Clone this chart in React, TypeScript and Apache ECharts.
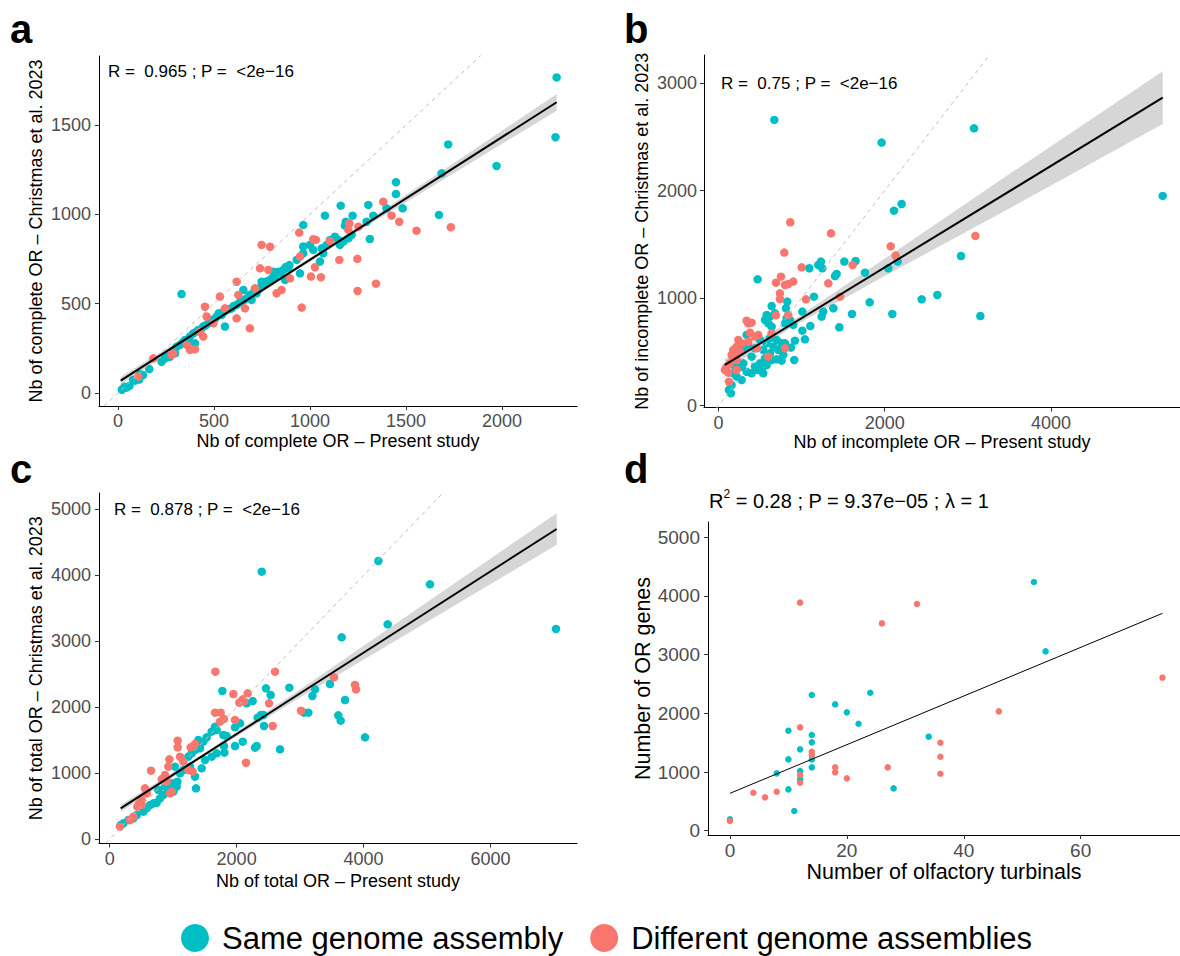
import React, { useEffect, useRef } from 'react';
import * as echarts from 'echarts';

const FONT = '"Liberation Sans", Arial, Helvetica, sans-serif';
const TEAL = '#00BFC4';
const RED = '#F8766D';
const SAME = 'Same genome assembly';
const DIFF = 'Different genome assemblies';

// Panel a: complete OR
const completeSame: number[][] = [
  [20,18],[28,26],[36,35],[45,30],[60,40],[78,73],[89,69],[110,75],[115,106],[130,100],[163,134],[227,175],[245,194],[258,205],[271,203],[286,236],[297,222],[306,259],[323,269],
  [338,285],[349,297],[366,300],[375,316],[392,334],[410,345],[418,353],[432,356],[444,372],[456,378],[470,390],[478,398],[488,409],[505,416],[514,428],[525,447],[540,437],[552,455],[566,465],[578,470],[592,474],[603,487],[618,493],[633,506],[644,512],[656,520],[670,530],[684,548],[696,521],[708,566],[722,558],[735,585],[748,595],[758,605],[765,614],[777,626],[792,633],[805,646],[818,652],[826,668],[835,679],[848,672],[861,689],[874,706],[887,698],[893,716],
  [557,372],[401,278],[331,554],[653,577],[748,623],[809,679],[870,633],
  [2285,1767],[2279,1432],[1720,1392],[1972,1271],[1686,1230],[1448,1180],[1448,1114],[1483,1034],[1399,1034],[1304,1053],[1330,993],[1160,1049],[1078,993],[1222,993],[1187,959],[1182,937],[1312,862],[1672,997],[965,941],[1130,875],[1148,857],[1174,848],[1156,829],[1217,885],[1087,829],[1061,810],[1017,801],[1000,829],[965,820],[965,782],[931,745],[948,670],[1052,736],[1069,782],[1104,857],[1200,866],[1295,959]
];
const completeDiff: number[][] = [
  [106,92],[184,194],[280,213],[288,222],[358,269],[401,245],[444,316],[453,483],[462,428],[497,390],[531,540],[557,474],[618,623],[618,418],[627,549],[661,474],[687,362],[713,586],[748,829],[792,819],[740,698],[783,689],[826,558],[852,577],[896,642],[427,343],[375,241],
  [1382,1071],[1425,993],[1465,959],[1555,909],[1734,928],[1252,931],[1205,950],[1200,913],[1104,851],[1017,861],[1031,857],[1153,745],[1247,751],[1026,704],[1005,652],[1057,648],[1248,571],[1344,612],[957,478],[944,898],[948,764]
];

// Panel b: incomplete OR
const incompleteSame: number[][] = [
  [339,658],[359,549],[439,534],[499,611],[539,518],[560,440],[499,394],[539,363],[439,363],[479,332],[399,301],[339,316],[279,363],[299,394],[199,363],[178,301],[219,270],[279,239],[158,192],[126,146],[150,115],[319,534],[399,456],[620,627],[580,580],[660,549],[620,487],[640,425],[580,378],[539,301],
  [920,605],[872,540],[800,580],[760,580],[700,611],[720,518],[780,472],[760,419],[700,431],[912,425],[1009,698],[1041,617],
  [580,844],[620,828],[560,797],[600,766],[640,735],[680,859],[820,813],[860,797],[800,766],[900,751],[640,927],[812,906],[828,968],[1009,875],[1105,741],[1454,729],[1606,853],[1819,961],[2092,853],[1241,828],[1261,875],[1382,906],[1149,1014],[1093,1278],[1201,1309],[1233,1340],[1249,1278],[1514,1340],[1650,1346],[1422,1225],[1402,1206],[1763,1237],[2044,1278],[2156,1340],[2112,1814],[2204,1876],[471,1175],[672,2658],[1963,2447],
  [3075,2580],[5345,1951],[2918,1392],[2445,989],[2633,1030],[3151,834]
];
const incompleteDiff: number[][] = [
  [864,1706],[1354,1603],[792,1424],[752,1200],[692,1144],[800,1123],[840,1132],[900,1154],[1001,1287],[1322,1138],[1614,1309],[2072,1482],[2132,1396],[1462,1014],[1053,989],[740,1045],[740,992],[692,840],[339,791],[359,766],[399,772],[379,679],[439,642],[479,657],[239,611],[279,580],[219,549],[178,518],[259,503],[158,471],[199,456],[219,425],[138,394],[98,363],[78,332],[118,307],[219,332],[126,223],[600,456],[800,534],[640,673],[840,844],[459,534],[359,596],[3091,1579]
];

// Panel c: total OR
const totalSame: number[][] = [
  [1775,2246],[2463,2286],[2537,2185],[2831,2296],[2159,2059],[2253,2094],[2385,1882],[2421,1882],[2332,1841],[2432,1715],[3236,2271],[3194,2170],[3062,1917],[3131,1917],[3472,2352],[2684,1361],[2290,1386],[2316,1411],[1975,1411],[2096,1477],[1807,1310],[1801,1411],[1843,1563],[1791,1578],
  [1660,1705],[1607,1629],[1686,1654],[1528,1543],[1476,1477],[1397,1502],[1423,1376],[1344,1351],[1292,1300],[1239,1250],[1686,1300],[1607,1250],[1502,1199],[1449,1072],[1344,946],[1360,769],[1266,1098],[1160,1047],[1108,997],[1066,870],[1055,794],[1003,719],[977,845],[924,744],[845,668],[793,617],[740,551],[688,541],[635,516],[583,466],[530,415],[425,364],[372,314],[294,288],[215,238],[173,212],[766,744],[871,794],[1029,1098],[1975,1694],[2054,1755],
  [4234,4219],[5048,3864],[4381,3257],[3656,3060],[7034,3187],[3709,2109],[3603,1877],[3640,1796],[4024,1543],[2396,4056]
];
const totalDiff: number[][] = [
  [1665,2539],[2605,2539],[1949,2200],[2175,2210],[2096,2119],[2043,2069],[2117,2089],[2511,2059],[1660,1917],[1749,1917],[1801,1821],[1738,1781],[1975,1806],[3015,1947],[2569,1715],[1071,1492],[1071,1391],[1276,1391],[1344,1442],[1108,1249],[940,1209],[1160,1174],[2148,1158],[651,1037],[924,1098],[871,971],[819,906],[898,870],[977,719],[950,693],[1239,1047],[1308,1022],[556,769],[583,693],[504,592],[467,541],[435,491],[504,516],[162,187],[372,339],[320,288],[3535,2453],[3866,2337],[3882,2271]
];

// Panel d: turbinals vs OR genes
const turbSame: number[][] = [
  [0,193],[8,977],[10,1704],[10,1215],[10,704],[11,335],[12,1386],[12,1017],[12,874],[14,2312],[14,1630],[14,1505],[14,1215],[14,1079],[18,2152],[20,2016],[22,1823],[24,2351],[28,721],[52,4237],[54,3055],[34,1602]
];
const turbDiff: number[][] = [
  [0,165],[4,647],[6,568],[8,664],[12,3885],[12,1760],[12,948],[12,818],[14,1346],[14,1289],[18,1079],[18,994],[20,892],[26,3532],[27,1079],[32,3862],[74,2607],[46,2033],[36,1499],[36,1261],[36,971]
];

// Regression fits and confidence bands
const fitA: number[][] = [[14,69],[2285,1628]];
const bandAX = [14,600,1200,1800,2285];
const bandALo = [47,462,871,1264,1580];
const bandAHi = [91,480,895,1324,1674];

const fitB: number[][] = [[78,379],[5345,2865]];
const bandBX = [78,900,2000,3500,5345];
const bandBLo = [324,737,1206,1834,2620];
const bandBHi = [434,797,1366,2154,3110];

const fitC: number[][] = [[173,466],[7045,4704]];
const bandCX = [173,1500,3000,5000,7045];
const bandCLo = [411,1259,2149,3293,4464];
const bandCHi = [521,1309,2269,3593,4944];

const fitD: number[][] = [[0,637],[74,3703]];

const identityLine: number[][] = [[-500,-500],[9000,9000]];

const ticksA_x = [0,500,1000,1500,2000];
const ticksA_y = [0,500,1000,1500];
const ticksB_x = [0,2000,4000];
const ticksB_y = [0,1000,2000,3000];
const ticksC_x = [0,2000,4000,6000];
const ticksC_y = [0,1000,2000,3000,4000,5000];
const ticksD_x = [0,20,40,60];
const ticksD_y = [0,1000,2000,3000,4000,5000];

function axis(kind: 'x' | 'y', gi: number, min: number, max: number, ticks: number[], name: string, nameGap: number, nameSize: number, labelSize: number, margin: number) {
  return {
    type: 'value', gridIndex: gi, min, max, name, nameLocation: 'middle', nameGap,
    nameTextStyle: { color: '#000', fontSize: nameSize, fontFamily: FONT },
    axisLine: { show: true, onZero: false, lineStyle: { color: '#000', width: 1 } },
    axisTick: { show: true, length: 4, lineStyle: { color: '#333', width: 1 }, customValues: ticks },
    axisLabel: {
      color: '#4D4D4D', fontSize: labelSize, fontFamily: FONT, margin, customValues: ticks,
      formatter: (v: number) => String(v),
    },
    splitLine: { show: false },
  };
}

function scatter(gi: number, name: string, data: number[][], color: string, size: number) {
  return {
    type: 'scatter', name, xAxisIndex: gi, yAxisIndex: gi, data, symbolSize: size,
    itemStyle: { color, opacity: 1 }, silent: true,
  };
}

function line(gi: number, name: string, data: number[][], style: any) {
  return {
    type: 'line', name, xAxisIndex: gi, yAxisIndex: gi, data, symbol: 'none', showSymbol: false,
    lineStyle: style, silent: true, clip: true,
  };
}

function band(gi: number, name: string, xs: number[], lo: number[], hi: number[]) {
  return {
    type: 'custom', name, xAxisIndex: gi, yAxisIndex: gi, silent: true, clip: true,
    data: [[xs[0], lo[0]]],
    renderItem: (_p: any, api: any) => {
      const up = xs.map((x, i) => api.coord([x, hi[i]]));
      const dn = xs.map((x, i) => api.coord([x, lo[i]])).reverse();
      return { type: 'polygon', shape: { points: up.concat(dn) }, style: { fill: 'rgba(153,153,153,0.4)' } };
    },
  };
}

const dashStyle = { color: '#BEBEBE', width: 1, type: [4, 4] };
const fitStyle = { color: '#000', width: 2 };

export default function App() {
  const ref = useRef<HTMLDivElement>(null);
  useEffect(() => {
    document.body.style.margin = '0';
    if (!ref.current) return;
    const chart = echarts.init(ref.current, null, { renderer: 'svg' });
    const txt = (x: number, y: number, text: string, font: string) => ({
      type: 'text', x, y, silent: true,
      style: { text, font, fill: '#000', textAlign: 'left', textVerticalAlign: 'middle' },
    });
    chart.setOption({
      animation: false,
      backgroundColor: '#fff',
      textStyle: { fontFamily: FONT },
      grid: [
        { left: 99, top: 56, width: 478, height: 350 },
        { left: 704, top: 55, width: 476, height: 352.5 },
        { left: 99, top: 493, width: 478, height: 350.5 },
        { left: 708, top: 522, width: 472, height: 313 },
      ],
      xAxis: [
        axis('x', 0, -99, 2391, ticksA_x, 'Nb of complete OR \u2013 Present study', 26, 18, 18, 6),
        axis('x', 1, -174, 5553, ticksB_x, 'Nb of incomplete OR \u2013 Present study', 25, 18, 18, 6),
        axis('x', 2, -169, 7365, ticksC_x, 'Nb of total OR \u2013 Present study', 28, 18, 18, 6),
        axis('x', 3, -3.76, 77, ticksD_x, 'Number of olfactory turbinals', 26, 21.5, 19, 6),
      ],
      yAxis: [
        axis('y', 0, -73, 1887, ticksA_y, 'Nb of complete OR \u2013 Christmas et al. 2023', 54, 18, 18, 8),
        axis('y', 1, -17, 3262, ticksB_y, 'Nb of incomplete OR \u2013 Christmas et al. 2023', 53, 18, 18, 7),
        axis('y', 2, -68, 5250, ticksC_y, 'Nb of total OR \u2013 Christmas et al. 2023', 54, 18, 18, 8),
        axis('y', 3, -73, 5259, ticksD_y, 'Number of OR genes', 54, 21.5, 19, 8),
      ],
      legend: {
        data: [SAME, DIFF], left: 176, top: 916, itemWidth: 44, itemHeight: 28, itemGap: 27,
        icon: 'circle', selectedMode: false,
        textStyle: { fontSize: 31, lineHeight: 34, color: '#000', fontFamily: FONT },
      },
      series: [
        line(0, 'identity a', identityLine, dashStyle),
        scatter(0, SAME, completeSame, TEAL, 8.5),
        scatter(0, DIFF, completeDiff, RED, 8.5),
        band(0, 'band a', bandAX, bandALo, bandAHi),
        line(0, 'fit a', fitA, fitStyle),

        line(1, 'identity b', identityLine, dashStyle),
        scatter(1, SAME, incompleteSame, TEAL, 8.5),
        scatter(1, DIFF, incompleteDiff, RED, 8.5),
        band(1, 'band b', bandBX, bandBLo, bandBHi),
        line(1, 'fit b', fitB, fitStyle),

        line(2, 'identity c', identityLine, dashStyle),
        scatter(2, SAME, totalSame, TEAL, 8.5),
        scatter(2, DIFF, totalDiff, RED, 8.5),
        band(2, 'band c', bandCX, bandCLo, bandCHi),
        line(2, 'fit c', fitC, fitStyle),

        scatter(3, SAME, turbSame, TEAL, 6.5),
        scatter(3, DIFF, turbDiff, RED, 6.5),
        line(3, 'fit d', fitD, { color: '#000', width: 1 }),
      ],
      graphic: [
        txt(10, 29, 'a', `bold 40px ${FONT}`),
        txt(624, 29, 'b', `bold 40px ${FONT}`),
        txt(10, 469, 'c', `bold 40px ${FONT}`),
        txt(624, 469, 'd', `bold 40px ${FONT}`),
        txt(108, 71, 'R =  0.965 ; P =  <2e\u221216', `17px ${FONT}`),
        txt(721, 83, 'R =  0.75 ; P =  <2e\u221216', `17px ${FONT}`),
        txt(114, 509, 'R =  0.878 ; P =  <2e\u221216', `17px ${FONT}`),
        {
          type: 'text', x: 709, y: 501, silent: true,
          style: {
            text: '{m|R}{s|2}{m| = 0.28 ; P = 9.37e\u221205 ; \u03bb = 1}',
            textAlign: 'left', textVerticalAlign: 'middle', fill: '#000',
            rich: {
              m: { fontSize: 20, fontFamily: FONT, lineHeight: 26, fill: '#000', color: '#000' },
              s: { fontSize: 12, fontFamily: FONT, verticalAlign: 'top', lineHeight: 12, fill: '#000', color: '#000' },
            },
          },
        },
      ],
    });
    return () => chart.dispose();
  }, []);
  return <div ref={ref} style={{ width: 1180, height: 956 }} />;
}
